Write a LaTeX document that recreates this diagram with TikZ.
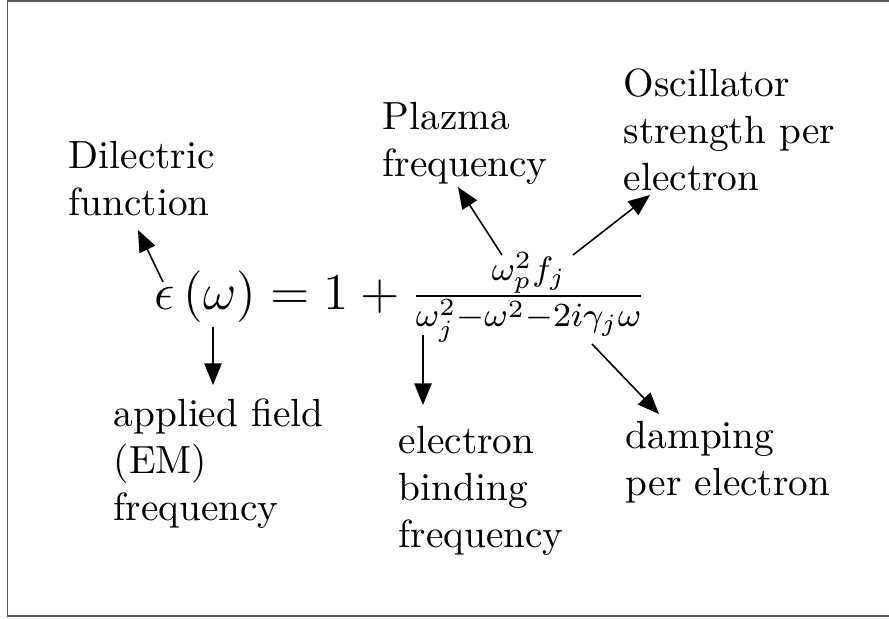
\RequirePackage{fix-cm}
\documentclass[tikz,border=0pt]{standalone}
\usetikzlibrary{arrows.meta}
\DeclareMathSizes{13.1}{13.1}{8.6}{6.3}
\begin{document}
\begin{tikzpicture}[x=0.2545pt,y=-0.2545pt,
  lbl/.style={anchor=north west,inner sep=0pt,align=left,font=\fontsize{10}{12}\selectfont},
  arr/.style={-{Triangle[length=5.5pt,width=4.4pt]},line width=0.4pt},
  frame/.style={draw=black!65,line width=0.45pt}]
\useasboundingbox (0,0) rectangle (889,619);
\draw[frame] (895,1) -- (7.5,1) -- (7.5,616) -- (895,616);
\node[anchor=base west,inner sep=0pt,font=\fontsize{13.1}{16}\selectfont] (eq) at (154,309)
  {$\epsilon\left(\omega\right)=1+\frac{\omega_p^2 f_j}{\omega_j^2-\omega^2-2i\gamma_j\omega}$};
\node[lbl] (dil) at (68,140) {Dilectric\\function};
\node[lbl] (app) at (113,398) {applied field\\(EM)\\frequency};
\node[lbl] (ele) at (398,425) {electron\\binding\\frequency};
\node[lbl] (plz) at (382,101) {Plazma\\frequency};
\node[lbl] (osc) at (623,68) {Oscillator\\strength per\\electron};
\node[lbl] (dmp) at (625,420) {damping\\per electron};
\coordinate (a1s) at (163,282); \coordinate (a1e) at (138,230);
\coordinate (a2s) at (213,327); \coordinate (a2e) at (213,385);
\coordinate (a3s) at (423,335); \coordinate (a3e) at (423,405);
\coordinate (a4s) at (502,255); \coordinate (a4e) at (458,187);
\coordinate (a5s) at (573,255); \coordinate (a5e) at (650,195);
\coordinate (a6s) at (592,344); \coordinate (a6e) at (659,414);
\draw[arr] (a1s) -- (a1e);
\draw[arr] (a2s) -- (a2e);
\draw[arr] (a3s) -- (a3e);
\draw[arr] (a4s) -- (a4e);
\draw[arr] (a5s) -- (a5e);
\draw[arr] (a6s) -- (a6e);
\end{tikzpicture}
\end{document}
